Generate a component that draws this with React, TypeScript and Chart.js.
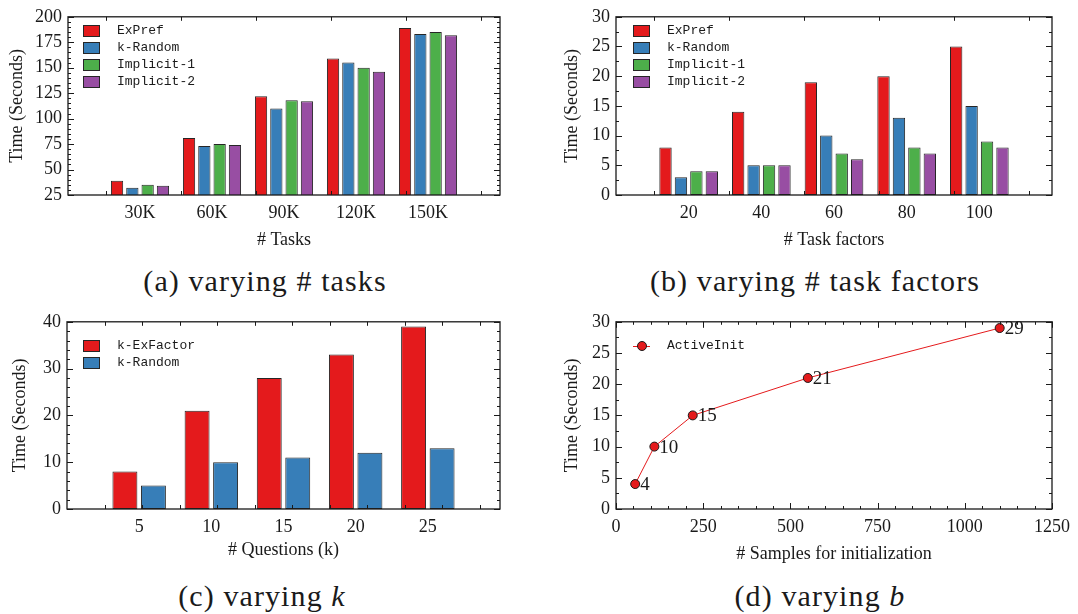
import React, { useEffect, useRef } from 'react';
import { Chart, registerables } from 'chart.js';

Chart.register(...registerables);

// ---------------- data ----------------
const taskLabels = ['30K', '60K', '90K', '120K', '150K'];
const taskExPref = [39, 81, 122, 159, 189];
const taskKRandom = [32, 73, 110, 155, 183];
const taskImplicit1 = [35, 75, 118, 150, 185];
const taskImplicit2 = [34, 74, 117, 146, 182];

const factorLabels = ['20', '40', '60', '80', '100'];
const factorExPref = [8, 14, 19, 20, 25];
const factorKRandom = [3, 5, 10, 13, 15];
const factorImplicit1 = [4, 5, 7, 8, 9];
const factorImplicit2 = [4, 5, 6, 7, 8];

const questionLabels = ['5', '10', '15', '20', '25'];
const questionKExFactor = [8, 21, 28, 33, 39];
const questionKRandom = [5, 10, 11, 12, 13];

const sampleSizes = [55, 110, 220, 550, 1100];
const activeInitTimes = [4, 10, 15, 21, 29];

const fourNames = ['ExPref', 'k-Random', 'Implicit-1', 'Implicit-2'];
const twoNames = ['k-ExFactor', 'k-Random'];
const lineName = 'ActiveInit';

// ---------------- styles ----------------
const SERIF = '"Liberation Serif", "DejaVu Serif", serif';
const MONO = '"Liberation Mono", "DejaVu Sans Mono", monospace';
const RED = '#e41a1c';
const BLUE = '#377eb8';
const GREEN = '#4daf4a';
const PURPLE = '#984ea3';
const EDGE = '#262626';
const INK = '#1a1a1a';
const fourColors = [RED, BLUE, GREEN, PURPLE];
const twoColors = [RED, BLUE];

const framePlugin = {
  id: 'frame',
  afterDatasetsDraw(chart: any, _args: any, opts: any) {
    const { ctx, chartArea: a } = chart;
    const xs = chart.scales.x;
    const ys = chart.scales.y;
    ctx.save();
    ctx.strokeStyle = INK;
    ctx.lineWidth = 1;
    ctx.beginPath();
    const hTick = (v: number, len: number) => {
      const p = Math.round(ys.getPixelForValue(v)) + 0.5;
      ctx.moveTo(a.left, p);
      ctx.lineTo(a.left + len, p);
      ctx.moveTo(a.right, p);
      ctx.lineTo(a.right - len, p);
    };
    const vTickPx = (px: number, len: number) => {
      const p = Math.round(px) + 0.5;
      ctx.moveTo(p, a.bottom);
      ctx.lineTo(p, a.bottom - len);
      ctx.moveTo(p, a.top);
      ctx.lineTo(p, a.top + len);
    };
    ys.ticks.forEach((t: any) => hTick(t.value, 6));
    if (opts.yMinor) {
      for (let v = ys.min; v <= ys.max + 1e-9; v += opts.yMinor) hTick(v, 3);
    }
    if (opts.xLinear) {
      xs.ticks.forEach((t: any) => vTickPx(xs.getPixelForValue(t.value), 6));
      if (opts.xMinor) {
        for (let v = xs.min; v <= xs.max + 1e-9; v += opts.xMinor) vTickPx(xs.getPixelForValue(v), 3);
      }
    } else if (opts.xTickStep) {
      for (let px = a.left + opts.xTickStart; px < a.right - 2; px += opts.xTickStep) vTickPx(px, 4);
    }
    ctx.stroke();
    ctx.lineWidth = 1.3;
    ctx.strokeRect(a.left, a.top, a.right - a.left, a.bottom - a.top);
    ctx.restore();
  },
};

const pointLabelPlugin = {
  id: 'pointLabels',
  afterDatasetsDraw(chart: any, _args: any, opts: any) {
    if (!opts || !opts.show) return;
    const { ctx } = chart;
    const meta = chart.getDatasetMeta(0);
    const ds = chart.data.datasets[0];
    ctx.save();
    ctx.fillStyle = INK;
    ctx.font = `19px ${SERIF}`;
    ctx.textAlign = 'left';
    ctx.textBaseline = 'middle';
    meta.data.forEach((el: any, i: number) => {
      ctx.fillText(String(ds.data[i].y), el.x + 5, el.y + 1);
    });
    ctx.restore();
  },
};

type AxisLayout = {
  padTop: number;
  padRight: number;
  yWidth: number;
  xHeight: number;
  xTitlePad: number;
  yTitlePad: number;
  xTickPad: number;
};

function axes(lay: AxisLayout, xTitle: string, x: any, y: any) {
  const font = { family: SERIF, size: 18 };
  return {
    x: {
      ...x,
      grid: { display: false, drawTicks: false },
      border: { display: false },
      ticks: { ...(x.ticks || {}), autoSkip: false, maxRotation: 0, padding: lay.xTickPad, color: INK, font },
      title: { display: true, text: xTitle, color: INK, font, padding: { top: 0, bottom: lay.xTitlePad } },
      afterFit: (s: any) => {
        s.height = lay.xHeight;
      },
    },
    y: {
      ...y,
      grid: { display: false, drawTicks: false },
      border: { display: false },
      ticks: { ...(y.ticks || {}), autoSkip: false, padding: 6, color: INK, font },
      title: { display: true, text: 'Time (Seconds)', color: INK, font, padding: { top: lay.yTitlePad, bottom: 0 } },
      afterFit: (s: any) => {
        s.width = lay.yWidth;
      },
    },
  };
}

function barConfig(
  categories: string[],
  names: string[],
  colors: string[],
  values: number[][],
  yMin: number,
  yMax: number,
  yStep: number,
  yMinor: number,
  catPct: number,
  barPct: number,
  xTitle: string,
  lay: AxisLayout,
  xTickStart: number,
  xTickStep: number
) {
  return {
    type: 'bar',
    data: {
      datasets: names.map((name, si) => ({
        label: name,
        data: values[si].map((v, i) => ({ x: i + 1, y: v })),
        backgroundColor: colors[si],
        borderColor: EDGE,
        borderWidth: 1,
        borderSkipped: false,
        categoryPercentage: catPct,
        barPercentage: barPct,
      })),
    },
    options: {
      animation: false,
      responsive: false,
      maintainAspectRatio: false,
      layout: { padding: { top: lay.padTop, right: lay.padRight, left: 0, bottom: 0 } },
      plugins: {
        legend: { display: false },
        tooltip: { enabled: false },
        frame: { yMinor, xTickStart, xTickStep },
      },
      scales: axes(
        lay,
        xTitle,
        {
          type: 'linear',
          min: 0,
          max: categories.length + 1,
          offset: false,
          ticks: { stepSize: 1, callback: (v: number) => categories[v - 1] ?? '' },
        },
        { type: 'linear', min: yMin, max: yMax, ticks: { stepSize: yStep } }
      ),
    },
    plugins: [framePlugin],
  };
}

function lineConfig(lay: AxisLayout) {
  return {
    type: 'scatter',
    data: {
      datasets: [
        {
          label: lineName,
          data: sampleSizes.map((x, i) => ({ x, y: activeInitTimes[i] })),
          showLine: true,
          borderColor: RED,
          borderWidth: 1,
          pointRadius: 4.5,
          pointBackgroundColor: RED,
          pointBorderColor: INK,
          pointBorderWidth: 1,
        },
      ],
    },
    options: {
      animation: false,
      responsive: false,
      maintainAspectRatio: false,
      layout: { padding: { top: lay.padTop, right: lay.padRight, left: 0, bottom: 0 } },
      plugins: {
        legend: { display: false },
        tooltip: { enabled: false },
        frame: { yMinor: 2.5, xLinear: true, xMinor: 50 },
        pointLabels: { show: true },
      },
      scales: axes(
        lay,
        '# Samples for initialization',
        { type: 'linear', min: 0, max: 1250, ticks: { stepSize: 250, callback: (v: number) => String(v) } },
        { type: 'linear', min: 0, max: 30, ticks: { stepSize: 5 } }
      ),
    },
    plugins: [framePlugin, pointLabelPlugin],
  };
}

function ChartCanvas({ left, top, width, height, make }: any) {
  const ref = useRef<HTMLCanvasElement | null>(null);
  useEffect(() => {
    if (!ref.current) return;
    const chart = new Chart(ref.current, make());
    return () => chart.destroy();
  }, []);
  return (
    <canvas
      ref={ref}
      width={width}
      height={height}
      style={{ position: 'absolute', left, top, width, height }}
    />
  );
}

function Legend({ left, top, gap, textLeft, names, colors, line }: any) {
  return (
    <>
      {names.map((n: string, i: number) => {
        const cy = top + i * gap;
        return (
          <React.Fragment key={n}>
            {line ? (
              <>
                <div style={{ position: 'absolute', left, top: cy - 0.5, width: 17, height: 1, background: colors[i] }} />
                <div
                  style={{
                    position: 'absolute',
                    left: left + 8.5 - 5,
                    top: cy - 5,
                    width: 8,
                    height: 8,
                    borderRadius: '50%',
                    background: colors[i],
                    border: `1px solid ${INK}`,
                  }}
                />
              </>
            ) : (
              <div
                style={{
                  position: 'absolute',
                  left,
                  top: cy - 6,
                  width: 15,
                  height: 10,
                  background: colors[i],
                  border: `1px solid ${EDGE}`,
                }}
              />
            )}
            <div
              style={{
                position: 'absolute',
                left: textLeft,
                top: cy - 9,
                height: 18,
                lineHeight: '18px',
                fontFamily: MONO,
                fontSize: 13,
                color: INK,
                whiteSpace: 'pre',
              }}
            >
              {n}
            </div>
          </React.Fragment>
        );
      })}
    </>
  );
}

function Caption({ cx, cy, children }: any) {
  return (
    <div
      style={{
        position: 'absolute',
        left: cx - 250,
        width: 500,
        top: cy - 19,
        height: 38,
        lineHeight: '38px',
        textAlign: 'center',
        fontFamily: SERIF,
        fontSize: 30,
        letterSpacing: 1.1,
        color: INK,
        whiteSpace: 'pre',
      }}
    >
      {children}
    </div>
  );
}

const layA: AxisLayout = { padTop: 7, padRight: 20, yWidth: 68, xHeight: 65, xTitlePad: 9, yTitlePad: 6, xTickPad: 7 };
const layB: AxisLayout = { padTop: 7, padRight: 26, yWidth: 76, xHeight: 65, xTitlePad: 9, yTitlePad: 21, xTickPad: 7 };
const layC: AxisLayout = { padTop: 16, padRight: 20, yWidth: 67, xHeight: 56, xTitlePad: 4, yTitlePad: 9, xTickPad: 7 };
const layD: AxisLayout = { padTop: 16, padRight: 26, yWidth: 76, xHeight: 56, xTitlePad: 0, yTitlePad: 21, xTickPad: 7 };

export default function App() {
  return (
    <div style={{ position: 'fixed', left: 0, top: 0, width: 1078, height: 614, background: '#fff', overflow: 'hidden' }}>
      <ChartCanvas
        left={0}
        top={0}
        width={520}
        height={260}
        make={() =>
          barConfig(
            taskLabels,
            fourNames,
            fourColors,
            [taskExPref, taskKRandom, taskImplicit1, taskImplicit2],
            25,
            200,
            25,
            5,
            0.85,
            0.8,
            '# Tasks',
            layA,
            37.5,
            75
          )
        }
      />
      <ChartCanvas
        left={540}
        top={0}
        width={538}
        height={260}
        make={() =>
          barConfig(
            factorLabels,
            fourNames,
            fourColors,
            [factorExPref, factorKRandom, factorImplicit1, factorImplicit2],
            0,
            30,
            5,
            2.5,
            0.85,
            0.8,
            '# Task factors',
            layB,
            37.5,
            75
          )
        }
      />
      <ChartCanvas
        left={0}
        top={305}
        width={520}
        height={260}
        make={() =>
          barConfig(
            questionLabels,
            twoNames,
            twoColors,
            [questionKExFactor, questionKRandom],
            0,
            40,
            10,
            2,
            0.79,
            0.875,
            '# Questions (k)',
            layC,
            37.5,
            37.5
          )
        }
      />
      <ChartCanvas left={540} top={305} width={538} height={260} make={() => lineConfig(layD)} />

      <Legend left={83} top={31} gap={16.9} textLeft={117} names={fourNames} colors={fourColors} />
      <Legend left={633} top={31} gap={16.9} textLeft={667} names={fourNames} colors={fourColors} />
      <Legend left={83} top={346} gap={17} textLeft={117} names={twoNames} colors={twoColors} />
      <Legend left={633} top={346} gap={17} textLeft={667} names={[lineName]} colors={[RED]} line />

      <Caption cx={265} cy={281}>(a) varying # tasks</Caption>
      <Caption cx={815} cy={281}>(b) varying # task factors</Caption>
      <Caption cx={262} cy={596}>
        (c) varying <i>k</i>
      </Caption>
      <Caption cx={820} cy={596}>
        (d) varying <i>b</i>
      </Caption>
    </div>
  );
}
